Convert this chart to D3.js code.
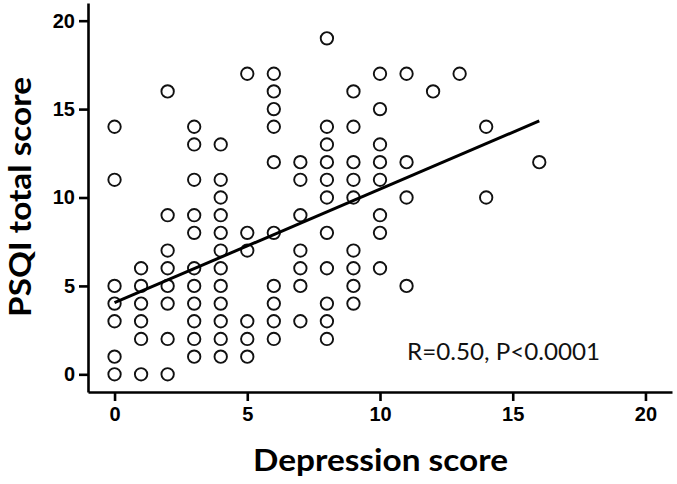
<!DOCTYPE html>
<html>
<head>
<meta charset="utf-8">
<script src="https://cdn.jsdelivr.net/npm/d3@7"></script>
<style>
	body { margin: 0; background: #fff; }
</style>
</head>
<body>
<div id="container"></div>
<script>
// depression score (x) and PSQI total score (y), one entry per subject
var depression = [
	0, 0, 0, 0, 0, 0, 0,
	1, 1, 1, 1, 1, 1,
	2, 2, 2, 2, 2, 2, 2, 2,
	3, 3, 3, 3, 3, 3, 3, 3, 3, 3, 3,
	4, 4, 4, 4, 4, 4, 4, 4, 4, 4, 4, 4,
	5, 5, 5, 5, 5, 5,
	6, 6, 6, 6, 6, 6, 6, 6, 6, 6,
	7, 7, 7, 7, 7, 7, 7,
	8, 8, 8, 8, 8, 8, 8, 8, 8, 8, 8,
	9, 9, 9, 9, 9, 9, 9, 9, 9,
	10, 10, 10, 10, 10, 10, 10, 10,
	11, 11, 11, 11,
	12, 13, 14, 14, 16
];
var psqi = [
	14, 11, 5, 4, 3, 1, 0,
	6, 5, 4, 3, 2, 0,
	16, 9, 7, 6, 5, 4, 2, 0,
	14, 13, 11, 9, 8, 6, 5, 4, 3, 2, 1,
	13, 11, 10, 9, 8, 7, 6, 5, 4, 3, 2, 1,
	17, 8, 7, 3, 2, 1,
	17, 16, 15, 14, 12, 8, 5, 4, 3, 2,
	12, 11, 9, 7, 6, 5, 3,
	19, 14, 13, 12, 11, 10, 8, 6, 4, 3, 2,
	16, 14, 12, 11, 10, 7, 6, 5, 4,
	17, 15, 13, 12, 11, 9, 8, 6,
	17, 12, 10, 5,
	16, 17, 14, 10, 12
];

// regression line end points
var fitX = [0, 16];
var fitY = [4.05, 14.33];

var xTicks = [0, 5, 10, 15, 20];
var yTicks = [0, 5, 10, 15, 20];

var statLabel = "R=0.50, P<0.0001";

// define size
var width = 677,
	height = 484;

var svg = d3.select("#container")
	.append("svg")
	.attr("width", width)
	.attr("height", height)
	.style("font-family", "'Liberation Sans', Arial, sans-serif");

// scales, axes run one unit beyond the data on each side
var x = d3.scaleLinear()
	.domain([-1, 21])
	.range([88, 672]);

var y = d3.scaleLinear()
	.domain([-1, 21])
	.range([392, 3]);

// x axis
svg.append("g")
	.attr("class", "x axis")
	.attr("transform", "translate(0," + y(-1) + ")")
	.call(d3.axisBottom(x).tickValues(xTicks).tickSize(9).tickSizeOuter(0).tickPadding(6));

// y axis
svg.append("g")
	.attr("class", "y axis")
	.attr("transform", "translate(" + x(-1) + ",0)")
	.call(d3.axisLeft(y).tickValues(yTicks).tickSize(9).tickSizeOuter(0).tickPadding(4));

svg.selectAll(".axis path, .axis line")
	.attr("stroke", "#000")
	.attr("stroke-width", 2.6);

svg.selectAll(".axis text")
	.attr("fill", "#000")
	.style("font-size", "20px")
	.style("font-weight", "bold");

// points
var points = depression.map(function(d, i) { return { x: d, y: psqi[i] }; });

svg.append("g")
	.selectAll("circle")
	.data(points)
	.enter().append("circle")
		.attr("cx", function(d) { return x(d.x); })
		.attr("cy", function(d) { return y(d.y); })
		.attr("r", 6.2)
		.attr("fill", "#fff")
		.attr("stroke", "#111")
		.attr("stroke-width", 1.9);

// regression line
var line = d3.line()
	.x(function(d) { return x(d[0]); })
	.y(function(d) { return y(d[1]); });

svg.append("path")
	.datum(fitX.map(function(d, i) { return [d, fitY[i]]; }))
	.attr("d", line)
	.attr("fill", "none")
	.attr("stroke", "#000")
	.attr("stroke-width", 3);

// stat text
svg.append("text")
	.attr("x", 407)
	.attr("y", 360)
	.attr("textLength", 193)
	.attr("lengthAdjust", "spacingAndGlyphs")
	.style("font-family", "Lato, 'Open Sans', sans-serif")
	.style("font-size", "24px")
	.attr("fill", "#111")
	.text(statLabel);

// axis titles
svg.append("text")
	.attr("x", 253)
	.attr("y", 471)
	.attr("textLength", 255)
	.attr("lengthAdjust", "spacingAndGlyphs")
	.style("font-family", "Lato, 'Open Sans', sans-serif")
	.style("font-size", "30px")
	.style("font-weight", "bold")
	.attr("fill", "#000")
	.text("Depression score");

svg.append("text")
	.attr("transform", "translate(31,317) rotate(-90)")
	.attr("textLength", 240)
	.attr("lengthAdjust", "spacingAndGlyphs")
	.style("font-family", "Lato, 'Open Sans', sans-serif")
	.style("font-size", "31px")
	.style("font-weight", "bold")
	.attr("fill", "#000")
	.text("PSQI total score");
</script>
</body>
</html>
